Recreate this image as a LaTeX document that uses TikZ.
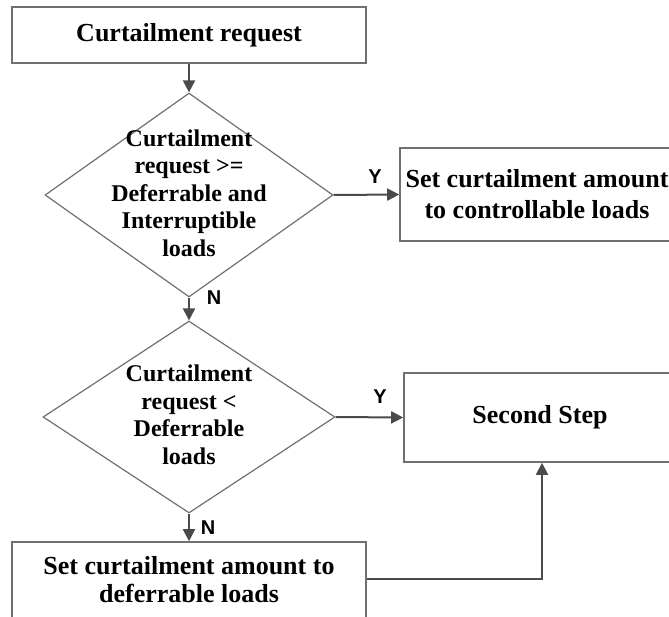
\documentclass[tikz,border=0pt]{standalone}
\usepackage{fontspec}
\setmainfont{Liberation Serif}
\newfontfamily\labelfont{Liberation Sans}
\usetikzlibrary{shapes.geometric,arrows.meta}
\definecolor{edgegray}{HTML}{707070}
\definecolor{arrowgray}{HTML}{4A4A4A}
\begin{document}
\begin{tikzpicture}[x=1pt,y=-1pt,
  procbox/.style={draw=edgegray,line width=1.6pt,fill=white,rectangle,inner sep=0pt,
    align=center,font=\bfseries\fontsize{26}{31}\selectfont},
  boxtext/.style={align=center,inner sep=0pt,font=\bfseries\fontsize{26}{28}\selectfont},
  decision/.style={draw=edgegray,line width=1.2pt,diamond,inner sep=0pt,aspect=1.4},
  dectext/.style={align=center,inner sep=0pt,font=\bfseries\fontsize{24}{27.5}\selectfont},
  flow/.style={draw=arrowgray,line width=2pt,-{Triangle[length=12pt,width=12pt]}},
  yn/.style={font=\labelfont\bfseries\fontsize{20}{20}\selectfont,inner sep=0pt}]
\useasboundingbox (0,0) rectangle (669,616);
\clip (0,0) rectangle (669,616);

% process boxes
\node[procbox,minimum width=354pt,minimum height=56pt] (req) at (189,35) {Curtailment request};
\node[procbox,minimum width=274pt,minimum height=93pt] (ctrl) at (537,194.5)
  {Set curtailment amount\\to controllable loads};
\node[procbox,minimum width=272pt,minimum height=89pt] (second) at (540,417.5) {Second Step};
% the last box runs past the lower edge; its text sits above the box centre
\node[procbox,minimum width=354pt,minimum height=84pt] (defer) at (189,584) {};
\node[boxtext] (defert) at (189,580) {Set curtailment amount to\\deferrable loads};

% decisions
\node[decision,minimum width=288pt,minimum height=204pt] (d1) at (189,195) {};
\node[dectext] (d1t) at (189,193)
  {Curtailment\\request >=\\Deferrable and\\Interruptible\\loads};
\node[decision,minimum width=292pt,minimum height=192pt] (d2) at (189,417) {};
\node[dectext] (d2t) at (189,415)
  {Curtailment\\request <\\Deferrable\\loads};

% connectors
\draw[flow] (req.south) -- (d1.north);
\draw[flow] (d1.east) -- (ctrl.west);
\draw[flow] (d1.south) -- (d2.north);
\draw[flow] (d2.east) -- (second.west);
\draw[flow] (d2.south) -- (defer.north);
\draw[flow] ([yshift=5pt]defer.east) -| ([xshift=2pt]second.south);

% branch labels
\node[yn] (y1) at (375,177) {Y};
\node[yn] (n1) at (214,298) {N};
\node[yn] (y2) at (380,397) {Y};
\node[yn] (n2) at (208,528) {N};
\end{tikzpicture}
\end{document}
